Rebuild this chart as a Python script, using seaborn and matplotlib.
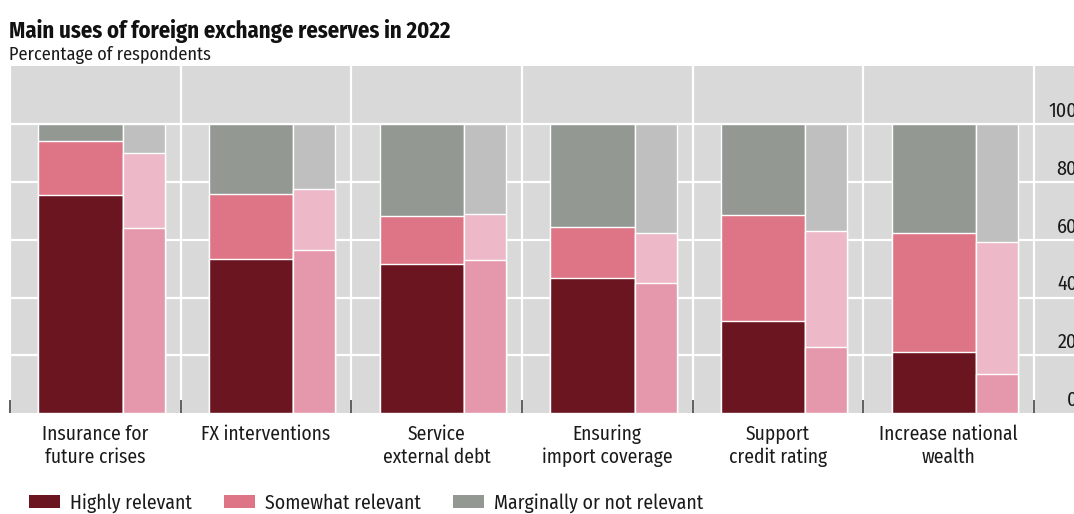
import matplotlib
matplotlib.use("Agg")
import matplotlib.pyplot as plt
from matplotlib import font_manager
from matplotlib.patches import Patch
import matplotlib.transforms as mtransforms
import numpy as np
import pandas as pd
import seaborn as sns

# Survey answers, share of respondents (%)
categories = [
    "Insurance for\nfuture crises",
    "FX interventions",
    "Service\nexternal debt",
    "Ensuring\nimport coverage",
    "Support\ncredit rating",
    "Increase national\nwealth",
]
# main bars
highly_main = [75.6, 53.2, 51.5, 46.9, 32.0, 21.3]
somewhat_main = [18.4, 22.7, 16.8, 17.4, 36.6, 41.1]
marginal_main = [6.0, 24.1, 31.7, 35.7, 31.4, 37.6]
# comparison bars
highly_comp = [64.1, 56.3, 52.9, 45.0, 22.8, 13.6]
somewhat_comp = [25.8, 21.3, 16.1, 17.3, 40.3, 45.7]
marginal_comp = [10.1, 22.4, 31.0, 37.7, 36.9, 40.7]

legend_labels = ["Highly relevant", "Somewhat relevant", "Marginally or not relevant"]
y_ticks = [0, 20, 40, 60, 80, 100]

title = "Main uses of foreign exchange reserves in 2022"
subtitle = "Percentage of respondents"

# colours
main_colors = ["#6b1520", "#de7586", "#939893"]
comp_colors = ["#e598ab", "#edb9c8", "#bfbfbf"]
panel_bg = "#d9d9d9"
text_color = "#1a1a1a"

sns.set_theme(style="white")
available = {f.name for f in font_manager.fontManager.ttflist}
family = next((f for f in ["Fira Sans Condensed", "Roboto Condensed", "PT Sans Narrow"]
               if f in available), "DejaVu Sans")
plt.rcParams["font.family"] = [family, "DejaVu Sans"]

W, H = 1074, 514
fig = plt.figure(figsize=(W / 100, H / 100), dpi=100)
ax = fig.add_axes([10 / W, (H - 413.3) / H, 1 - 10 / W, (413.3 - 66) / H])
ax.set_facecolor(panel_bg)

n = len(categories)
idx = np.arange(n)

def stacked(pos, width, highly, somewhat, marginal, colors):
    layers = [
        np.array(highly) + np.array(somewhat) + np.array(marginal),
        np.array(highly) + np.array(somewhat),
        np.array(highly),
    ]
    for vals, col in zip(layers, colors[::-1]):
        df = pd.DataFrame({"x": pos, "v": vals})
        sns.barplot(data=df, x="x", y="v", native_scale=True, width=width,
                    color=col, saturation=1, edgecolor="white", linewidth=1.0,
                    errorbar=None, ax=ax, zorder=2)

stacked(idx + 0.413, 0.494, highly_main, somewhat_main, marginal_main, main_colors)
stacked(idx + 0.783, 0.245, highly_comp, somewhat_comp, marginal_comp, comp_colors)

ax.set_xlim(0, n + 40 / 170.67)
ax.set_ylim(0, 120)
ax.set_xlabel("")
ax.set_ylabel("")
for s in ax.spines.values():
    s.set_visible(False)

# grid: white lines on grey panel
ax.set_axisbelow(True)
ax.set_yticks(y_ticks[1:])
ax.tick_params(axis="y", length=0, labelleft=False, labelright=False)
ax.yaxis.grid(True, color="white", linewidth=1.6)

ax.set_xticks(np.arange(n + 1))
ax.set_xticklabels([""] * (n + 1))
ax.xaxis.grid(True, color="white", linewidth=1.6)
ax.tick_params(axis="x", which="major", direction="in", length=9.5, width=1.2,
               color="#444444", bottom=True)
ax.set_xticks(idx + 0.5, minor=True)
ax.set_xticklabels(categories, minor=True, fontsize=14, color=text_color,
                   linespacing=1.2)
ax.tick_params(axis="x", which="minor", length=0, pad=8)

# y tick labels on the right, sitting above each gridline
offset = mtransforms.ScaledTranslation(0, 3 / 100, fig.dpi_scale_trans)
trans = mtransforms.blended_transform_factory(ax.transAxes, ax.transData) + offset
for t in y_ticks:
    ax.text(1.0029, t, str(t), transform=trans, ha="right", va="bottom",
            fontsize=14.5, color=text_color)

fig.text(9 / W, 1 - 31 / H, title, fontsize=16.3, fontweight="bold",
         va="center", ha="left", color="#111111")
fig.text(9 / W, 1 - 55 / H, subtitle, fontsize=13.1, va="center", ha="left",
         color=text_color)

handles = [Patch(facecolor=c, edgecolor="none") for c in main_colors]
fig.legend(handles, legend_labels, loc="center left",
           bbox_to_anchor=(29 / W, 1 - 503 / H), ncol=3, frameon=False,
           fontsize=14.2, handlelength=1.57, handleheight=0.61,
           handletextpad=0.51, columnspacing=1.62, borderaxespad=0,
           borderpad=0, labelcolor=text_color)

fig.savefig("out.png", dpi=100)
